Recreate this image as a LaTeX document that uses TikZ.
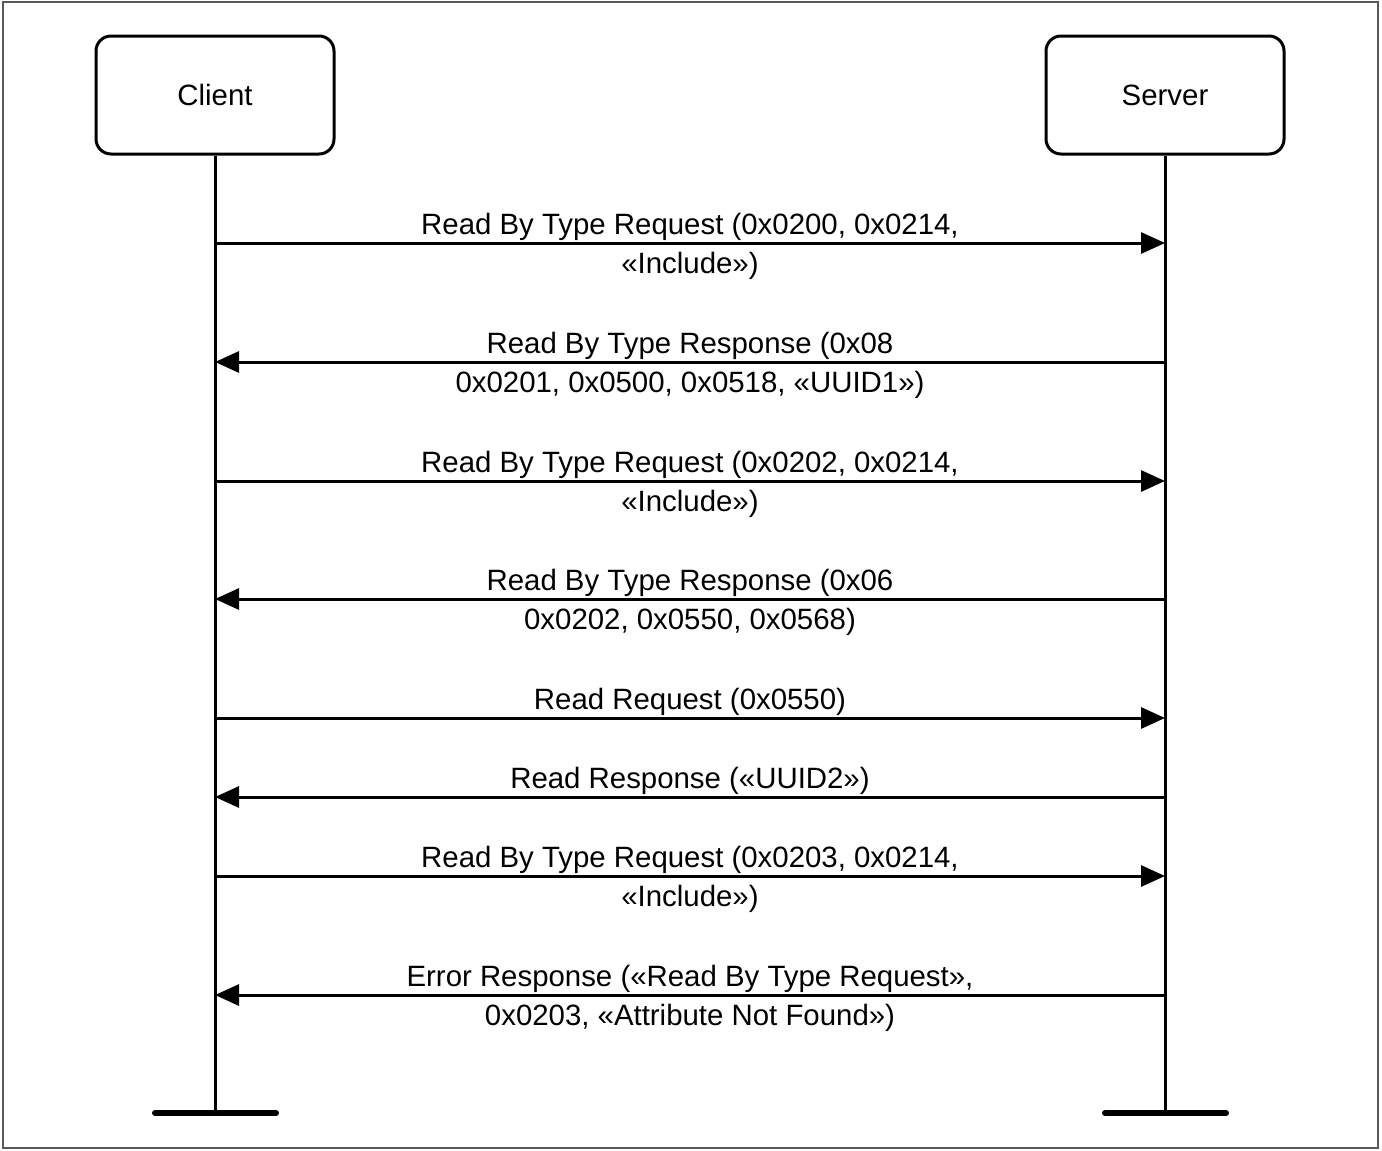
\documentclass[tikz,border=0pt]{standalone}
\usepackage{fontspec}
\setmainfont{Liberation Sans}
\usetikzlibrary{arrows.meta}
\begin{document}
\begin{tikzpicture}[x=1bp,y=-1bp,
  actor/.style={draw=black,line width=3bp,rounded corners=15bp,minimum width=238bp,minimum height=118bp,font=\fontsize{29.5}{39}\selectfont},
  life/.style={line width=3bp},
  endbar/.style={line width=6bp,line cap=round},
  msg/.style={line width=3bp,-{Triangle[length=24bp,width=21bp]}},
  lbl/.style={align=center,anchor=base,inner sep=0pt,font=\fontsize{29.5}{39}\selectfont}]
\useasboundingbox (0,0) rectangle (1382,1150);
\draw[draw=black!65,line width=1.8bp] (3,2) rectangle (1378,1148);
\node[actor] (client) at (215,95) {Client};
\node[actor] (server) at (1165,95) {Server};
\coordinate (cend) at (215,1113);
\coordinate (send) at (1165,1113);
\draw[life] (client.south) -- (cend);
\draw[life] (server.south) -- (send);
\coordinate (cl) at (155,1113); \coordinate (cr) at (276,1113);
\coordinate (sl) at (1105,1113); \coordinate (sr) at (1226,1113);
\draw[endbar] (cl) -- (cr);
\draw[endbar] (sl) -- (sr);
% messages
\foreach \i/\y in {1/243,2/362,3/481,4/599,5/718,6/797,7/876,8/995}{
  \coordinate (c\i) at (215,\y);
  \coordinate (s\i) at (1165,\y);
}
\draw[msg] (c1) -- (s1);
\draw[msg] (s2) -- (c2);
\draw[msg] (c3) -- (s3);
\draw[msg] (s4) -- (c4);
\draw[msg] (c5) -- (s5);
\draw[msg] (s6) -- (c6);
\draw[msg] (c7) -- (s7);
\draw[msg] (s8) -- (c8);
\node[lbl] (m1) at (690,273) {Read By Type Request (0x0200, 0x0214,\\«Include»)};
\node[lbl] (m2) at (690,392) {Read By Type Response (0x08\\0x0201, 0x0500, 0x0518, «UUID1»)};
\node[lbl] (m3) at (690,511) {Read By Type Request (0x0202, 0x0214,\\«Include»)};
\node[lbl] (m4) at (690,629) {Read By Type Response (0x06\\0x0202, 0x0550, 0x0568)};
\node[lbl] (m5) at (690,709) {Read Request (0x0550)};
\node[lbl] (m6) at (690,788) {Read Response («UUID2»)};
\node[lbl] (m7) at (690,906) {Read By Type Request (0x0203, 0x0214,\\«Include»)};
\node[lbl] (m8) at (690,1025) {Error Response («Read By Type Request»,\\0x0203, «Attribute Not Found»)};
\end{tikzpicture}
\end{document}
